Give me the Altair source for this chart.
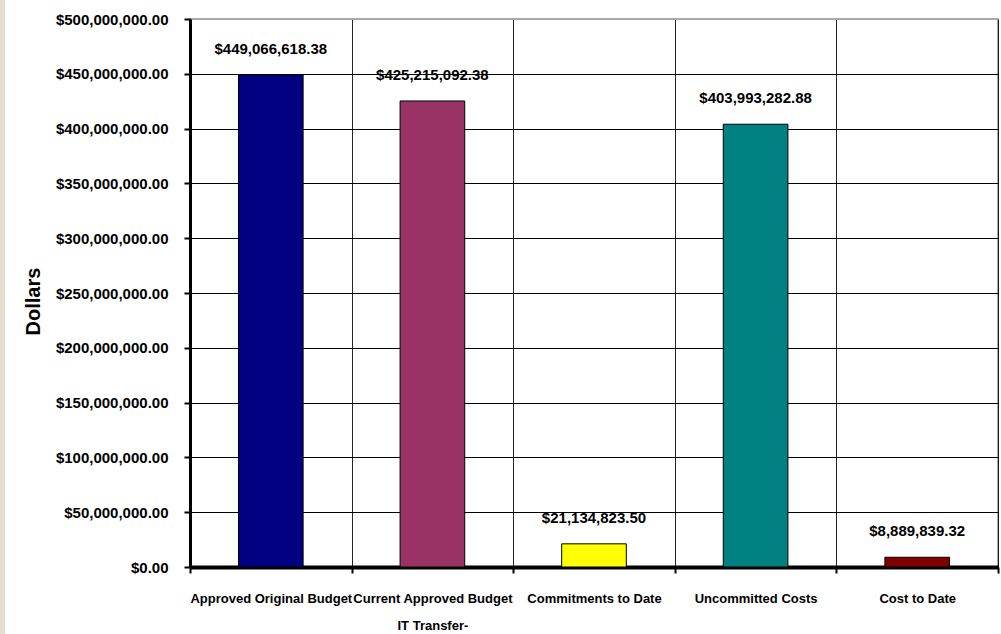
import altair as alt
import pandas as pd

categories = [
    "Approved Original Budget",
    "Current Approved Budget\nIT Transfer-",
    "Commitments to Date",
    "Uncommitted Costs",
    "Cost to Date",
]
values = [449066618.38, 425215092.38, 21134823.50, 403993282.88, 8889839.32]
colors = ["#000080", "#993366", "#FFFF00", "#008080", "#800000"]

df = pd.DataFrame({"category": categories, "value": values, "color": colors})

FONT = "Liberation Sans, Arial, sans-serif"

x = alt.X(
    "category:N",
    sort=categories,
    scale=alt.Scale(paddingInner=0, paddingOuter=0),
    axis=alt.Axis(
        title=None,
        labelAngle=0,
        labelExpr="split(datum.label, '\\n')",
        labelFont=FONT,
        labelFontSize=13,
        labelFontWeight="bold",
        labelColor="black",
        labelLineHeight=27,
        labelPadding=19,
        labelBaseline="top",
        labelLimit=0,
        labelOverlap=False,
        tickBand="extent",
        tickSize=6,
        tickColor="black",
        tickWidth=2,
        domainColor="black",
        domainWidth=4,
        grid=True,
        gridColor="black",
        gridWidth=1,
        gridOpacity=0.85,
    ),
)
y = alt.Y(
    "value:Q",
    scale=alt.Scale(domain=[0, 500000000], nice=False),
    axis=alt.Axis(
        title="Dollars",
        titleFont=FONT,
        titleFontSize=20,
        titleFontWeight="bold",
        titleColor="black",
        titleX=-157,
        titleY=282,
        titleAlign="center",
        titleBaseline="middle",
        values=[i * 50000000 for i in range(11)],
        format="$,.2f",
        labelFont=FONT,
        labelFontSize=15,
        labelFontWeight="bold",
        labelColor="black",
        labelPadding=16,
        labelLimit=0,
        tickSize=6,
        tickColor="black",
        tickWidth=2,
        domainColor="black",
        domainWidth=3,
        grid=True,
        gridColor=alt.condition("datum.value == 500000000", alt.value("#a8a8a8"), alt.value("black")),
        gridWidth=1,
    ),
)

bars = alt.Chart(df).mark_bar(
    width=alt.RelativeBandSize(0.4), stroke="black", strokeWidth=1
).encode(
    x=x,
    y=y,
    color=alt.Color("color:N", scale=None),
)

labels = alt.Chart(df).mark_text(
    font=FONT, fontSize=15, fontWeight="bold", color="black", dy=-26, baseline="middle"
).encode(
    x=alt.X("category:N", sort=categories),
    y="value:Q",
    text=alt.Text("value:Q", format="$,.2f"),
)

strip = alt.Chart(df).mark_rect(color="#E5DFCF", clip=False).encode(
    x=alt.value(-190), x2=alt.value(-185), y=alt.value(-19), y2=alt.value(615)
)

chart = alt.layer(strip, bars, labels).properties(
    width=808,
    height=548,
    autosize=alt.AutoSizeParams(type="none"),
    padding={"left": 190, "top": 19, "right": 3, "bottom": 67},
    background="white",
).configure_view(stroke="#a8a8a8", strokeWidth=2)

chart.save("out.html", embed_options={"renderer": "svg", "actions": False})
